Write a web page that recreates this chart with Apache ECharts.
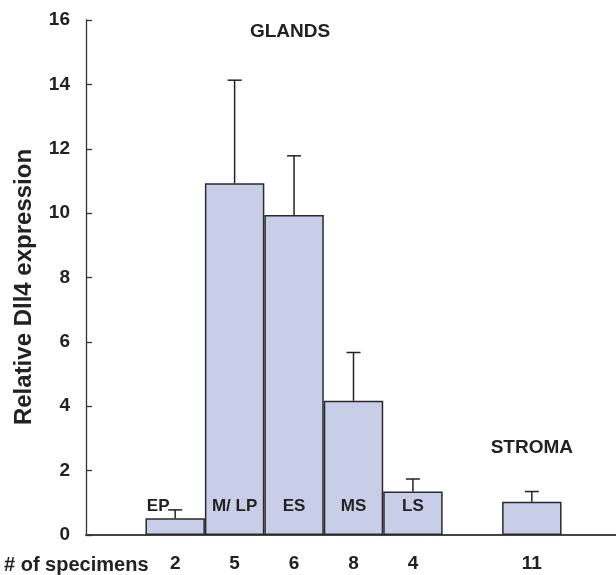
<!DOCTYPE html>
<html>
<head>
<meta charset="utf-8">
<script src="https://cdn.jsdelivr.net/npm/echarts@6/dist/echarts.min.js"></script>
<style>
  html, body { margin: 0; padding: 0; background: #fff; }
  #chart { width: 616px; height: 575px; }
</style>
</head>
<body>
<div id="chart"></div>
<script>
// slots along the x axis (gaps are empty slots)
const categories = ['gap0', 'EP', 'M/ LP', 'ES', 'MS', 'LS', 'gap6', 'STROMA', 'gap8']
const counts = ['', '2', '5', '6', '8', '4', '', '11', '']
const means = ['-', 0.52, 10.93, 9.94, 4.17, 1.35, '-', 1.03, '-']
const errTop = ['-', 0.78, 14.13, 11.78, 5.67, 1.74, '-', 1.35, '-']
const yTicks = [0, 2, 4, 6, 8, 10, 12, 14, 16]

const font = 'Liberation Sans, Arial, Helvetica, sans-serif'
const ink = '#222'

let chart = echarts.init(document.getElementById('chart'))

let barData = means.map((v, i) => {
  let item = { value: v }
  if (categories[i] === 'EP') item.label = { offset: [-17, 0] }
  if (categories[i] === 'STROMA') item.label = { distance: 78, fontSize: 19 }
  return item
})

let errData = []
means.forEach((v, i) => {
  if (v !== '-') errData.push([i, v, errTop[i]])
})

let option = {
  animation: false,
  grid: { left: 86, width: 535, top: 20, bottom: 40, outerBoundsMode: 'none' },
  xAxis: {
    type: 'category',
    data: categories,
    axisLine: { lineStyle: { color: '#444', width: 2 } },
    axisTick: { show: false },
    axisLabel: {
      margin: 19,
      color: ink,
      fontFamily: font,
      fontWeight: 'bold',
      fontSize: 19,
      formatter: (val, idx) => counts[idx]
    }
  },
  yAxis: {
    type: 'value',
    min: yTicks[0],
    max: yTicks[yTicks.length - 1],
    interval: 2,
    splitLine: { show: false },
    axisLine: { show: true, lineStyle: { color: '#333', width: 1.3 } },
    axisTick: { show: true, inside: true, length: 6, lineStyle: { color: '#333', width: 1.3 } },
    axisLabel: { margin: 16, color: ink, fontFamily: font, fontWeight: 'bold', fontSize: 19 }
  },
  graphic: [
    {
      type: 'text', x: 24, y: 287, rotation: Math.PI / 2,
      style: { text: 'Relative Dll4 expression', fill: ink, font: 'bold 24px ' + font, align: 'center', verticalAlign: 'middle' }
    },
    {
      type: 'text', x: 4, y: 565,
      style: { text: '# of specimens', fill: ink, font: 'bold 20px ' + font, verticalAlign: 'middle' }
    },
    {
      type: 'text', x: 290, y: 32,
      style: { text: 'GLANDS', fill: ink, font: 'bold 19px ' + font, align: 'center', verticalAlign: 'middle' }
    }
  ],
  series: [
    {
      type: 'bar',
      data: barData,
      barWidth: '100%',
      barCategoryGap: 0,
      itemStyle: { color: '#c9cee8', borderColor: '#2a2a2a', borderWidth: 1.5 },
      label: {
        show: true,
        position: 'insideBottom',
        distance: 20,
        formatter: '{b}',
        color: ink,
        fontFamily: font,
        fontWeight: 'bold',
        fontSize: 17
      }
    },
    {
      type: 'custom',
      data: errData,
      z: 5,
      renderItem: (params, api) => {
        let base = api.coord([api.value(0), api.value(1)])
        let top = api.coord([api.value(0), api.value(2)])
        let half = 7
        let style = { stroke: ink, lineWidth: 1.5 }
        return {
          type: 'group',
          children: [
            { type: 'line', shape: { x1: base[0], y1: base[1], x2: top[0], y2: top[1] }, style },
            { type: 'line', shape: { x1: top[0] - half, y1: top[1], x2: top[0] + half, y2: top[1] }, style }
          ]
        }
      }
    }
  ]
}
chart.setOption(option)
</script>
</body>
</html>
